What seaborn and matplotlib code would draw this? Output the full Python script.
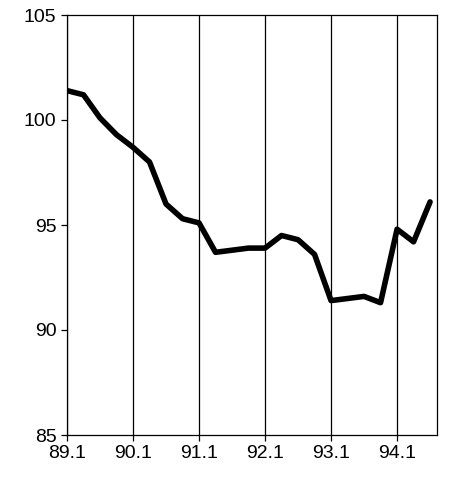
import numpy as np
import pandas as pd
import seaborn as sns
import matplotlib.pyplot as plt

# quarterly index, 89.1 .. 94.3
values = [101.4, 101.2, 100.1, 99.3, 98.7, 98.0, 96.0, 95.3, 95.1, 93.7, 93.8, 93.9,
          93.9, 94.5, 94.3, 93.6, 91.4, 91.5, 91.6, 91.3, 94.8, 94.2, 96.1]
year_labels = ['89.1', '90.1', '91.1', '92.1', '93.1', '94.1']
y_ticks = [85, 90, 95, 100, 105]

df = pd.DataFrame({'q': np.arange(len(values)), 'value': values})

sns.set_style('ticks')
plt.rcParams['font.family'] = ['Liberation Sans', 'DejaVu Sans']

fig = plt.figure(figsize=(4.51, 4.82), dpi=100)
ax = fig.add_axes([67 / 451, 47 / 482, 370 / 451, 420 / 482])

for i in range(len(year_labels)):
    ax.axvline(i * 4, color='black', linewidth=0.9, zorder=1)

sns.lineplot(data=df, x='q', y='value', ax=ax, color='black', linewidth=4, zorder=3)

ax.set_xlim(0, 22.42)
ax.set_ylim(85, 105)
ax.set_xticks([i * 4 for i in range(len(year_labels))])
ax.set_xticklabels(year_labels)
ax.set_yticks(y_ticks)
ax.set_xlabel('')
ax.set_ylabel('')
ax.tick_params(labelsize=14, length=4, color='black', labelcolor='black', width=0.9)
for s in ax.spines.values():
    s.set_color('black')
    s.set_linewidth(0.9)

fig.savefig('out.png', dpi=100)
